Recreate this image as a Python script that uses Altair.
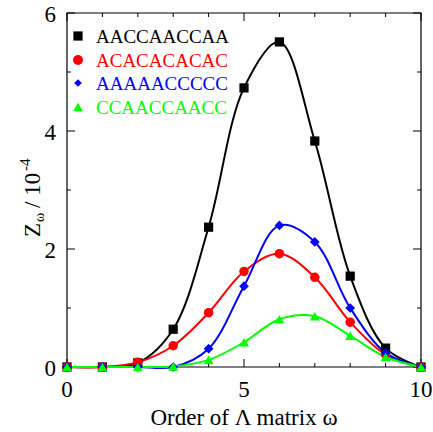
import altair as alt
import pandas as pd

orders = [0, 1, 2, 3, 4, 5, 6, 7, 8, 9, 10]
names = ["AACCAACCAA", "ACACACACAC", "AAAAACCCCC", "CCAACCAACC"]
colors = ["#000000", "#ff0000", "#0000ff", "#00ff00"]
shapes = ["square", "circle", "diamond", "triangle-up"]
sizes = [85, 100, 60, 95]

z_aaccaaccaa = [0, 0, 0.07, 0.64, 2.37, 4.73, 5.51, 3.83, 1.54, 0.32, 0]
z_acacacacac = [0, 0, 0.08, 0.36, 0.92, 1.62, 1.92, 1.52, 0.76, 0.21, 0]
z_aaaaaccccc = [0, 0, 0, 0, 0.31, 1.37, 2.40, 2.12, 1.00, 0.24, 0]
z_ccaaccaacc = [0, 0, 0, 0.01, 0.12, 0.42, 0.81, 0.86, 0.53, 0.17, 0]

x_major = [0, 5, 10]
x_minor = [1, 2, 3, 4, 6, 7, 8, 9]
y_major = [0, 2, 4, 6]
y_minor = [1, 3, 5]
x_title = "Order of Λ matrix ω"

series = [z_aaccaaccaa, z_acacacacac, z_aaaaaccccc, z_ccaaccaacc]
rows = []
for k, (n, vals) in enumerate(zip(names, series)):
    for o, v in zip(orders, vals):
        rows.append({"order": o, "z": v, "name": n, "k": k})
df = pd.DataFrame(rows)

W, H = 354, 354
FONT = "Liberation Serif"

xs = alt.Scale(domain=[0, 10], nice=False, zero=False)
ys = alt.Scale(domain=[0, 6], nice=False, zero=False)
cscale = alt.Scale(domain=names, range=colors)

lines = alt.Chart(df).mark_line(interpolate="catmull-rom", strokeWidth=2).encode(
    x=alt.X("order:Q", scale=xs, axis=None),
    y=alt.Y("z:Q", scale=ys, axis=None),
    color=alt.Color("name:N", scale=cscale, legend=None),
    detail="name:N",
    order="order:Q",
)

points = alt.Chart(df).mark_point(filled=True, opacity=1).encode(
    x=alt.X("order:Q", scale=xs, axis=None),
    y=alt.Y("z:Q", scale=ys, axis=None),
    color=alt.Color("name:N", scale=cscale, legend=None),
    shape=alt.Shape("name:N", scale=alt.Scale(domain=names, range=shapes), legend=None),
    size=alt.Size("name:N", scale=alt.Scale(domain=names, range=sizes), legend=None),
    order=alt.Order("k:Q"),
)

def tick_layer(vals, side, length):
    d = pd.DataFrame({"v": vals})
    c = alt.Chart(d).mark_rule(color="black", strokeWidth=1)
    if side == "bottom":
        return c.encode(x=alt.X("v:Q", scale=xs, axis=None), y=alt.value(H), y2=alt.value(H - length))
    if side == "top":
        return c.encode(x=alt.X("v:Q", scale=xs, axis=None), y=alt.value(0), y2=alt.value(length))
    if side == "left":
        return c.encode(y=alt.Y("v:Q", scale=ys, axis=None), x=alt.value(0), x2=alt.value(length))
    return c.encode(y=alt.Y("v:Q", scale=ys, axis=None), x=alt.value(W), x2=alt.value(W - length))

ticks = []
for side in ["bottom", "top"]:
    ticks.append(tick_layer(x_major, side, 8))
    ticks.append(tick_layer(x_minor, side, 4))
for side in ["left", "right"]:
    ticks.append(tick_layer(y_major, side, 8))
    ticks.append(tick_layer(y_minor, side, 4))

# tick labels placed through the scales
xlab = alt.Chart(pd.DataFrame({"v": x_major})).mark_text(
    font=FONT, fontSize=23, color="black", align="center", baseline="alphabetic").encode(
    x=alt.X("v:Q", scale=xs, axis=None), y=alt.value(H + 30), text=alt.Text("v:Q", format="d"))
ylab = alt.Chart(pd.DataFrame({"v": y_major})).mark_text(
    font=FONT, fontSize=23, color="black", align="right", baseline="middle", dy=2).encode(
    y=alt.Y("v:Q", scale=ys, axis=None), x=alt.value(-11), text=alt.Text("v:Q", format="d"))

one = pd.DataFrame({"a": [0]})
frame = alt.Chart(one).mark_rect(fillOpacity=0, stroke="black", strokeWidth=1.2).encode(
    x=alt.value(0), x2=alt.value(W), y=alt.value(0), y2=alt.value(H))

xtitle = alt.Chart(one).mark_text(font=FONT, fontSize=23, color="black", align="center",
                                  baseline="alphabetic").encode(
    x=alt.value(W / 2), y=alt.value(H + 58), text=alt.value(x_title))

legend_layers = []
leg_y = [23, 47, 70, 94]
for n, c, s, sz, yy in zip(names, colors, shapes, sizes, leg_y):
    legend_layers.append(
        alt.Chart(one).mark_point(filled=True, opacity=1, shape=s, size=sz, color=c).encode(
            x=alt.value(11), y=alt.value(yy)))
    legend_layers.append(
        alt.Chart(one).mark_text(align="left", baseline="middle", font=FONT, fontSize=19,
                                 color=c).encode(
            x=alt.value(29), y=alt.value(yy + 1), text=alt.value(n)))

# y-axis title with subscript and superscript (rotated pieces)
title_parts = [
    ("Z", 23, 0, 0),
    ("ω", 14, 15, 4),
    ("/ 10", 23, 29, 0),
    ("-4", 15, 66, -10),
]
title_layers = []
for txt, fs, dx, dy in title_parts:
    title_layers.append(
        alt.Chart(one).mark_text(align="left", baseline="alphabetic", font=FONT, fontSize=fs,
                                 color="black", angle=270, dx=dx, dy=dy).encode(
            x=alt.value(-27), y=alt.value(224), text=alt.value(txt)))

chart = alt.layer(frame, *ticks, lines, points, xlab, ylab, xtitle,
                  *legend_layers, *title_layers).properties(
    width=W, height=H,
    padding={"left": 67, "top": 13, "right": 12, "bottom": 65},
    autosize=alt.AutoSizeParams(type="none"),
    background="white",
).configure_view(strokeWidth=0)

chart.save("out.html", embed_options={"renderer": "svg", "actions": False})
